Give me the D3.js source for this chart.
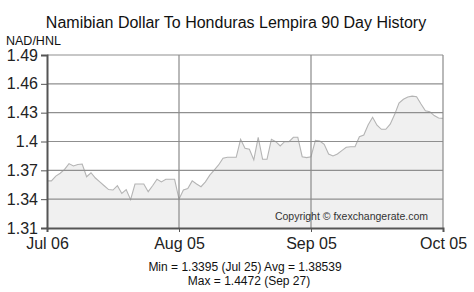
<!DOCTYPE html>
<html><head><meta charset="utf-8">
<script src="https://cdn.jsdelivr.net/npm/d3@7"></script>
<style>body{margin:0;background:#fff}svg{display:block}text{font-family:"Liberation Sans",Arial,sans-serif}</style>
</head><body>
<svg id="c" width="474" height="292"></svg>
<script>
const title = "Namibian Dollar To Honduras Lempira 90 Day History";
const unitLabel = "NAD/HNL";
const yTicks = [1.31, 1.34, 1.37, 1.4, 1.43, 1.46, 1.49];
const xTickIdx = [0, 30, 60, 90];
const xTickLabels = ["Jul 06", "Aug 05", "Sep 05", "Oct 05"];
const rates = [
 1.359,1.359,1.364,1.367,1.371,1.377,1.3745,1.376,1.3766,1.3634,
 1.3675,1.362,1.358,1.354,1.350,1.3495,1.354,1.346,1.350,1.3395,
 1.3558,1.3558,1.3558,1.3478,1.354,1.3607,1.358,1.3607,1.3607,1.3607,
 1.340,1.3495,1.351,1.359,1.3558,1.353,1.358,1.365,1.3703,1.3756,
 1.3825,1.3836,1.3836,1.3836,1.4023,1.393,1.392,1.3808,1.4044,1.3815,
 1.3815,1.4023,1.3998,1.3953,1.3998,1.3998,1.4044,1.4044,1.3842,1.3832,
 1.3842,1.4012,1.4005,1.397,1.387,1.385,1.387,1.3905,1.394,1.3946,
 1.3946,1.405,1.4068,1.4175,1.4252,1.417,1.4127,1.4127,1.418,1.428,
 1.440,1.444,1.4463,1.4472,1.4466,1.439,1.432,1.431,1.427,1.4245,1.4241
];
const statsLine1 = "Min = 1.3395 (Jul 25) Avg = 1.38539";
const statsLine2 = "Max = 1.4472 (Sep 27)";
const copyright = "Copyright \u00A9 fxexchangerate.com";

const svg = d3.select("#c");
const L = 47, R = 443, T = 55, B = 228;
const x = d3.scaleLinear().domain([0, 90]).range([L, R]);
const y = d3.scaleLinear().domain([1.31, 1.49]).range([B, T]);

// area + line
svg.append("path").datum(rates)
  .attr("fill", "#f0f0f0")
  .attr("d", d3.area().x((d,i)=>x(i)).y0(B).y1(d=>y(d)));
svg.append("path").datum(rates)
  .attr("fill", "none").attr("stroke", "#b4b4b4").attr("stroke-width", 1.1)
  .attr("d", d3.line().x((d,i)=>x(i)).y(d=>y(d)));

// grid
svg.append("g").selectAll("line").data(yTicks.slice(1)).join("line")
  .attr("x1", L).attr("x2", R).attr("y1", d=>y(d)).attr("y2", d=>y(d))
  .attr("stroke", "#8f8f8f").attr("stroke-width", 1.2);
svg.append("g").selectAll("line").data(xTickIdx.slice(1)).join("line")
  .attr("x1", d=>x(d)).attr("x2", d=>x(d)).attr("y1", T).attr("y2", B)
  .attr("stroke", "#8a8a8a").attr("stroke-width", 1.2);

// axes
const yAxis = d3.axisLeft(y).tickValues(yTicks).tickSize(6).tickPadding(3)
  .tickFormat(d3.format(""));
const gy = svg.append("g").attr("transform", `translate(${L},0)`).call(yAxis);
gy.select(".domain").attr("stroke", "#555").attr("stroke-width", 2);
gy.selectAll(".tick line").attr("stroke", "#555");
gy.selectAll(".tick text").attr("font-size", 16).attr("fill", "#222")
  .attr("font-family", "Liberation Sans, Arial, sans-serif");

const xAxis = d3.axisBottom(x).tickValues(xTickIdx).tickSize(4).tickPadding(6)
  .tickFormat((d,i)=>xTickLabels[i]);
const gx = svg.append("g").attr("transform", `translate(0,${B})`).call(xAxis);
gx.select(".domain").attr("stroke", "#555").attr("stroke-width", 2);
gx.selectAll(".tick line").attr("stroke", "#555");
gx.selectAll(".tick text").attr("font-size", 16).attr("fill", "#222")
  .attr("font-family", "Liberation Sans, Arial, sans-serif");

// titles
svg.append("text").attr("x", 236).attr("y", 28).attr("text-anchor", "middle")
  .attr("font-size", 16).attr("fill", "#111").text(title);
svg.append("text").attr("x", 6).attr("y", 45)
  .attr("font-size", 12.5).attr("fill", "#111").text(unitLabel);
svg.append("text").attr("x", 428).attr("y", 220).attr("text-anchor", "end")
  .attr("font-size", 10.5).attr("fill", "#333").text(copyright);
svg.append("text").attr("x", 245).attr("y", 271).attr("text-anchor", "middle")
  .attr("font-size", 12).attr("fill", "#111").text(statsLine1);
svg.append("text").attr("x", 249).attr("y", 285).attr("text-anchor", "middle")
  .attr("font-size", 12).attr("fill", "#111").text(statsLine2);
</script>
</body></html>
